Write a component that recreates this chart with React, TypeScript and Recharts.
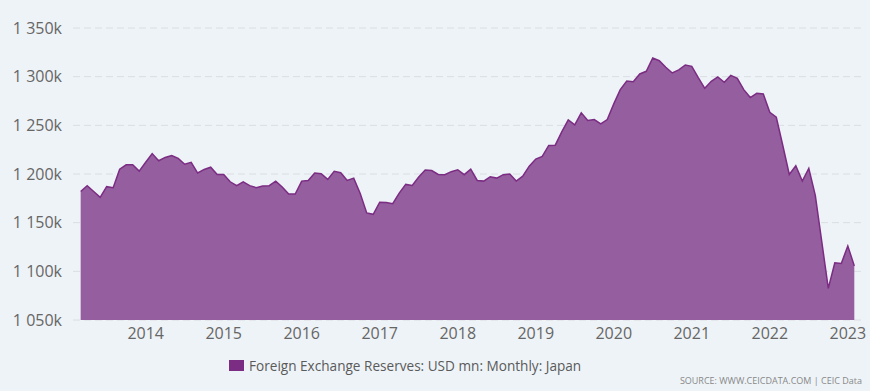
import React from "react";
import { AreaChart, Area, XAxis, YAxis, CartesianGrid } from "recharts";

// Monthly series, Mar 2013 .. Feb 2023 (USD mn, thousands)
const startYear = 2013;
const startMonth = 3;
const reserves: number[] = [
  1182, 1188, 1182, 1176, 1187, 1186, 1205, 1209.5, 1209.5, 1203,
  1212, 1221, 1213.6, 1217, 1219, 1216, 1210, 1212, 1201, 1204.7,
  1207, 1199.6, 1199.6, 1192, 1188, 1192, 1188, 1186, 1187.6, 1188,
  1192.7, 1186.6, 1179.4, 1179.4, 1192.7, 1193.4, 1201, 1200.3, 1194.5, 1202.7,
  1201.3, 1193.4, 1195.8, 1180, 1160, 1158.6, 1171, 1170.6, 1169.5, 1180.4,
  1189.3, 1188.3, 1197, 1204, 1203.6, 1199.5, 1199.3, 1202.4, 1204.4, 1199.3,
  1205, 1193.4, 1192.7, 1197.2, 1195.8, 1199.3, 1199.9, 1192.7, 1197.8, 1208.1,
  1215.3, 1218, 1229.3, 1229.6, 1243.3, 1255.6, 1250.5, 1262.8, 1254.9, 1255.9,
  1251.5, 1255.9, 1272, 1286.7, 1295.6, 1294.9, 1302.8, 1305.5, 1319.2, 1316.4,
  1309.6, 1303.8, 1306.9, 1312, 1310.6, 1299, 1288, 1295.2, 1299.7, 1294.2,
  1301.3, 1298.3, 1286.7, 1278.5, 1282.9, 1282.3, 1263.4, 1258.3, 1229.3, 1199.6,
  1208.5, 1192.7, 1205.7, 1178, 1130.2, 1082.5, 1108.7, 1108.1, 1126.1, 1105.6,
];
const yearTicks: number[] = [2014, 2015, 2016, 2017, 2018, 2019, 2020, 2021, 2022, 2023];
const valueTicks: number[] = [1050, 1100, 1150, 1200, 1250, 1300, 1350];
const seriesName = "Foreign Exchange Reserves: USD mn: Monthly: Japan";
const sourceText = "SOURCE: WWW.CEICDATA.COM | CEIC Data";

const data = reserves.map((v, i) => {
  const m0 = startMonth - 1 + i;
  return {
    idx: i,
    label: `${startYear + Math.floor(m0 / 12)}-${String((m0 % 12) + 1).padStart(2, "0")}`,
    value: v,
  };
});

const yearToIdx = (y: number) => (y - startYear) * 12 - (startMonth - 1);
const xTickIdx = yearTicks.map(yearToIdx);

const fmtY = (v: number) => `${Math.floor(v / 1000)} ${String(v % 1000).padStart(3, "0")}k`;
const fmtX = (i: number) => String(startYear + Math.floor((i + startMonth - 1) / 12));

const BG = "#EEF3F7";
const tickStyle = { fill: "#666666", fontSize: 16, fontFamily: "Open Sans" };

export default function App() {
  return (
    <div style={{ position: "fixed", left: 0, top: 0, width: 870, height: 391, background: BG, overflow: "hidden" }}>
      <AreaChart
        width={870}
        height={391}
        data={data}
        margin={{ top: 28, right: 9, bottom: 0, left: 0 }}
      >
        <CartesianGrid vertical={false} stroke="#d9dee3" strokeDasharray="7 4" />
        <XAxis
          dataKey="idx"
          type="number"
          domain={[-1.18, 120.03]}
          ticks={xTickIdx}
          tickFormatter={fmtX}
          axisLine={false}
          tickLine={false}
          tick={tickStyle}
          height={71}
          allowDataOverflow
        />
        <YAxis
          type="number"
          domain={[1050, 1350]}
          ticks={valueTicks}
          tickFormatter={fmtY}
          axisLine={false}
          tickLine={false}
          tick={tickStyle}
          tickMargin={5}
          width={73}
          allowDataOverflow
        />
        <Area
          type="linear"
          dataKey="value"
          name={seriesName}
          stroke="#7B2C83"
          strokeWidth={1.5}
          fill="#955E9E"
          fillOpacity={1}
          isAnimationActive={false}
          dot={false}
          activeDot={false}
        />
      </AreaChart>
      <div
        style={{
          position: "absolute",
          left: 229,
          top: 356,
          display: "flex",
          alignItems: "center",
          fontFamily: "Open Sans",
          fontSize: 13.6,
          color: "#5a5a5a",
          whiteSpace: "nowrap",
        }}
      >
        <span style={{ display: "inline-block", width: 15, height: 11, background: "#7B2C83", marginRight: 5 }} />
        <span>{seriesName}</span>
      </div>
      <div
        style={{
          position: "absolute",
          right: 8,
          top: 374,
          fontFamily: "Open Sans",
          fontSize: 9,
          color: "#888888",
          whiteSpace: "nowrap",
        }}
      >
        {sourceText}
      </div>
    </div>
  );
}
